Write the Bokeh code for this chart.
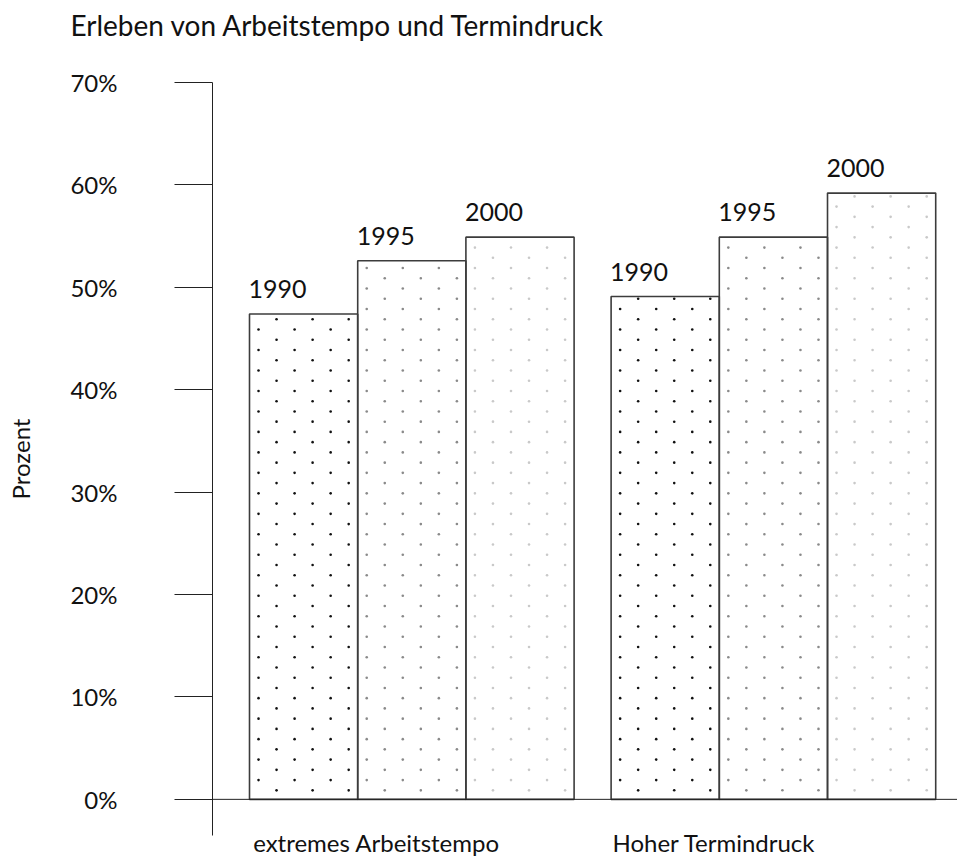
import numpy as np
from bokeh.plotting import figure
from bokeh.models import ColumnDataSource, FixedTicker, Span, LabelSet
from bokeh.core.properties import value
from bokeh.embed import file_html
from bokeh.resources import INLINE

# ---------------- data ----------------
title_text = "Erleben von Arbeitstempo und Termindruck"
categories = ["extremes Arbeitstempo", "Hoher Termindruck"]
years = ["1990", "1995", "2000"]
values_1990 = [47.4, 49.1]
values_1995 = [52.6, 54.9]
values_2000 = [54.9, 59.2]
y_ticks = [0, 10, 20, 30, 40, 50, 60, 70]
y_tick_labels = ["0%", "10%", "20%", "30%", "40%", "50%", "60%", "70%"]
y_axis_title = "Prozent"

# ---------------- layout / style ----------------
FONT = "Lato"
TEXT_COLOR = "#111111"
FIG_W, FIG_H = 957, 859
FRAME_LEFT, FRAME_TOP, FRAME_BOTTOM = 212, 82, 838
ZERO_PX = 801.7
BAR_PX = 108.2
GAP = 0.342
px_per_pct = (ZERO_PX - FRAME_TOP) / 70.0
x_start = -GAP
x_end = x_start + (FIG_W - FRAME_LEFT) / BAR_PX
y_end = 70
y_start = -(FRAME_BOTTOM - ZERO_PX) / px_per_pct

dot_colors = ["#111111", "#8a8a8a", "#c9c9c9"]
ROW0 = 0.88
CAT_FONT_PX = 24

p = figure(width=FIG_W, height=FIG_H, x_range=(x_start, x_end), y_range=(y_start, y_end),
           output_backend="svg", toolbar_location=None,
           min_border_left=FRAME_LEFT, min_border_right=0, min_border_top=FRAME_TOP,
           min_border_bottom=FIG_H - FRAME_BOTTOM)
p.outline_line_color = None
p.xgrid.visible = False
p.ygrid.visible = False
p.background_fill_color = "white"
p.border_fill_color = "white"

# title (empty second line lifts the title into the top margin)
p.title.text = title_text + "\n"
p.title.align = "left"
p.title.vertical_align = "top"
p.title.offset = -(FRAME_LEFT - 70)
p.title.text_font = FONT
p.title.text_font_size = "28px"
p.title.text_font_style = "normal"
p.title.text_color = TEXT_COLOR
p.title.standoff = 10

# bars
all_vals = [values_1990, values_1995, values_2000]
bx, btop, byear = [], [], []
for j, vals in enumerate(all_vals):
    for i, v in enumerate(vals):
        bx.append(i * (3 + GAP) + j + 0.5)
        btop.append(v)
        byear.append(years[j])
bars = ColumnDataSource(dict(x=bx, top=btop, left=[x - 0.5 for x in bx], year=byear))
p.vbar(x="x", top="top", bottom=0, width=1, source=bars, fill_color="white", line_color=None)

# dot texture
dx, dy, dc = [], [], []
for j, vals in enumerate(all_vals):
    for i, v in enumerate(vals):
        left = i * (3 + GAP) + j
        k = 0
        while ROW0 + k <= v - 0.1:
            offs = 0.25 if k % 2 == 0 else 1.0 / 12
            for m in range(3):
                dx.append(left + offs + m / 3.0)
                dy.append(ROW0 + k)
                dc.append(dot_colors[j])
            k += 1
p.scatter(x=dx, y=dy, color=dc, size=2.6, marker="circle", line_color=None)

p.vbar(x="x", top="top", bottom=0, width=1, source=bars, fill_color=None,
       line_color="#3c3c3c", line_width=1.6)

# baseline
p.add_layout(Span(location=0, dimension="width", line_color="#222222", line_width=1))

# y axis
yax = p.yaxis[0]
yax.ticker = FixedTicker(ticks=y_ticks)
yax.major_label_overrides = {t: l for t, l in zip(y_ticks, y_tick_labels)}
yax.major_tick_out = 38
yax.major_tick_in = 0
yax.minor_tick_out = 0
yax.minor_tick_in = 0
yax.axis_line_color = "#222222"
yax.major_tick_line_color = "#222222"
yax.major_label_standoff = 57
yax.major_label_text_font = FONT
yax.major_label_text_font_size = "24px"
yax.major_label_text_color = TEXT_COLOR
yax.axis_label = y_axis_title
yax.axis_label_text_font = FONT
yax.axis_label_text_font_size = "24px"
yax.axis_label_text_font_style = "normal"
yax.axis_label_text_color = TEXT_COLOR
yax.axis_label_standoff = 32

# x axis: category names set left-aligned under each group
group_starts = [i * (3 + GAP) for i in range(len(categories))]
cat_ticks = [gs + len(c) * 0.5 * CAT_FONT_PX / 2.0 / BAR_PX + 1.0 / BAR_PX
             for gs, c in zip(group_starts, categories)]
xax = p.xaxis[0]
xax.ticker = FixedTicker(ticks=cat_ticks)
xax.major_label_overrides = {t: c for t, c in zip(cat_ticks, categories)}
xax.axis_line_color = None
xax.major_tick_line_color = None
xax.minor_tick_line_color = None
xax.major_tick_out = 0
xax.major_tick_in = 0
xax.minor_tick_out = 0
xax.minor_tick_in = 0
xax.major_label_standoff = -8
xax.major_label_text_font = FONT
xax.major_label_text_font_size = f"{CAT_FONT_PX}px"
xax.major_label_text_color = TEXT_COLOR

# year labels
p.add_layout(LabelSet(x="left", y="top", text="year", source=bars, x_offset=-1, y_offset=16,
                      text_align="left", text_baseline="alphabetic", text_font=value(FONT),
                      text_font_size=value("25px"), text_color=value(TEXT_COLOR)))

open("out.html", "w").write(file_html(p, INLINE))
